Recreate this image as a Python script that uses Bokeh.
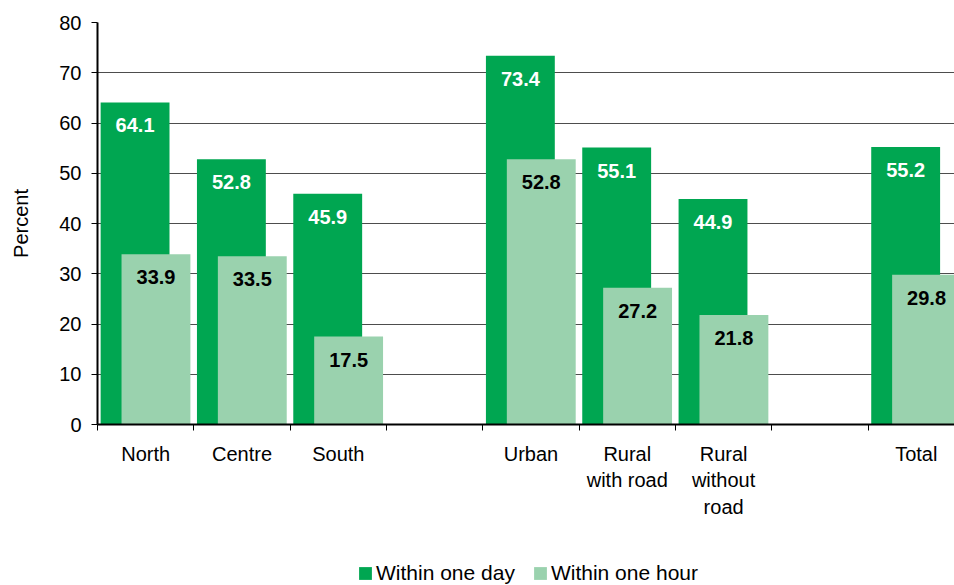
from bokeh.plotting import figure
from bokeh.models import ColumnDataSource, Range1d, FixedTicker, Legend, LegendItem
from bokeh.layouts import column
from bokeh.core.properties import value
from bokeh.transform import dodge
from bokeh.embed import file_html
from bokeh.resources import INLINE

# ---- data ----
categories = ["North", "Centre", "South", "", "Urban", "Rural\nwith road",
              "Rural\nwithout\nroad", "", "Total"]
within_one_day = [64.1, 52.8, 45.9, None, 73.4, 55.1, 44.9, None, 55.2]
within_one_hour = [33.9, 33.5, 17.5, None, 52.8, 27.2, 21.8, None, 29.8]
y_ticks = [0, 10, 20, 30, 40, 50, 60, 70, 80]
series_names = ["Within one day", "Within one hour"]

DARK = "#00A651"
LIGHT = "#9AD2AE"
FONT = "Liberation Sans"

idx = [i for i, c in enumerate(categories) if c]
src = ColumnDataSource(dict(
    x=[i + 0.5 for i in idx],
    day=[within_one_day[i] for i in idx],
    hour=[within_one_hour[i] for i in idx],
    day_lbl=[f"{within_one_day[i]:.1f}" for i in idx],
    hour_lbl=[f"{within_one_hour[i]:.1f}" for i in idx],
))

p = figure(width=954, height=535, output_backend="svg", toolbar_location=None,
           x_range=Range1d(0, 8.897), y_range=Range1d(0, 80),
           min_border_left=97, min_border_right=0, min_border_top=22,
           min_border_bottom=111)
p.outline_line_color = None
p.background_fill_color = "white"
p.border_fill_color = "white"

p.vbar(x=dodge("x", -0.11, range=p.x_range), top="day", width=0.715,
       bottom=0, source=src, fill_color=DARK, line_color=None)
p.vbar(x=dodge("x", 0.107, range=p.x_range), top="hour", width=0.715,
       bottom=0, source=src, fill_color=LIGHT, line_color=None)

p.text(x=dodge("x", -0.11, range=p.x_range), y="day", text="day_lbl", source=src,
       text_font=value(FONT), text_font_style="bold", text_font_size="20px",
       text_color="white", text_align="center", text_baseline="middle",
       y_offset=23)
p.text(x=dodge("x", 0.107, range=p.x_range), y="hour", text="hour_lbl", source=src,
       text_font=value(FONT), text_font_style="bold", text_font_size="20px",
       text_color="black", text_align="center", text_baseline="middle",
       y_offset=23)

# x axis
centers = [i + 0.5 for i in range(len(categories))]
bounds = [float(i) for i in range(len(categories))]
xa = p.xaxis[0]
xa.ticker = FixedTicker(ticks=centers, minor_ticks=bounds)
xa.major_label_overrides = {c: categories[i] for i, c in enumerate(centers)}
xa.major_tick_out = 0
xa.major_tick_in = 0
xa.minor_tick_out = 6
xa.minor_tick_in = 0
xa.minor_tick_line_color = "black"
xa.minor_tick_line_width = 1
xa.axis_line_color = "black"
xa.axis_line_width = 2
xa.major_label_text_font = FONT
xa.major_label_text_font_size = "20px"
xa.major_label_text_color = "black"
xa.major_label_text_line_height = 1.22
xa.major_label_standoff = 12

# y axis
ya = p.yaxis[0]
ya.ticker = FixedTicker(ticks=y_ticks)
ya.minor_tick_line_color = None
ya.major_tick_out = 6
ya.major_tick_in = 0
ya.major_tick_line_color = "black"
ya.axis_line_color = "black"
ya.axis_line_width = 2
ya.major_label_text_font = FONT
ya.major_label_text_font_size = "20px"
ya.major_label_text_color = "black"
ya.major_label_standoff = 10
ya.axis_label = "Percent"
ya.axis_label_text_font = FONT
ya.axis_label_text_font_size = "20px"
ya.axis_label_text_font_style = "normal"
ya.axis_label_text_color = "black"
ya.axis_label_standoff = 24

p.xgrid.grid_line_color = None
p.ygrid.ticker = FixedTicker(ticks=y_ticks)
p.ygrid.grid_line_color = "#4d4d4d"
p.ygrid.grid_line_width = 1

# legend strip below the chart (its key renderers sit outside its visible ranges)
lf = figure(width=954, height=50, output_backend="svg", toolbar_location=None,
            x_range=Range1d(-21, -20), y_range=Range1d(100, 101),
            x_axis_location=None, y_axis_location=None,
            min_border=0, min_border_left=0, min_border_right=0,
            min_border_top=0, min_border_bottom=0)
lf.outline_line_color = None
lf.grid.grid_line_color = None
lf.background_fill_color = "white"
lf.border_fill_color = "white"
k_day = lf.vbar(x="x", top="day", bottom=0, width=0.1, source=src,
                fill_color=DARK, line_color=None)
k_hour = lf.vbar(x="x", top="hour", bottom=0, width=0.1, source=src,
                 fill_color=LIGHT, line_color=None)

legend = Legend(items=[LegendItem(label=series_names[0], renderers=[k_day]),
                       LegendItem(label=series_names[1], renderers=[k_hour])],
                location=(260, 0), orientation="horizontal",
                glyph_width=16, glyph_height=16, label_standoff=3, spacing=17,
                padding=0, margin=0, border_line_color=None,
                background_fill_alpha=0,
                label_text_font=FONT, label_text_font_size="21px",
                label_text_color="black")
lf.add_layout(legend)

layout = column(p, lf, spacing=0)
open("out.html", "w").write(file_html(layout, INLINE))
